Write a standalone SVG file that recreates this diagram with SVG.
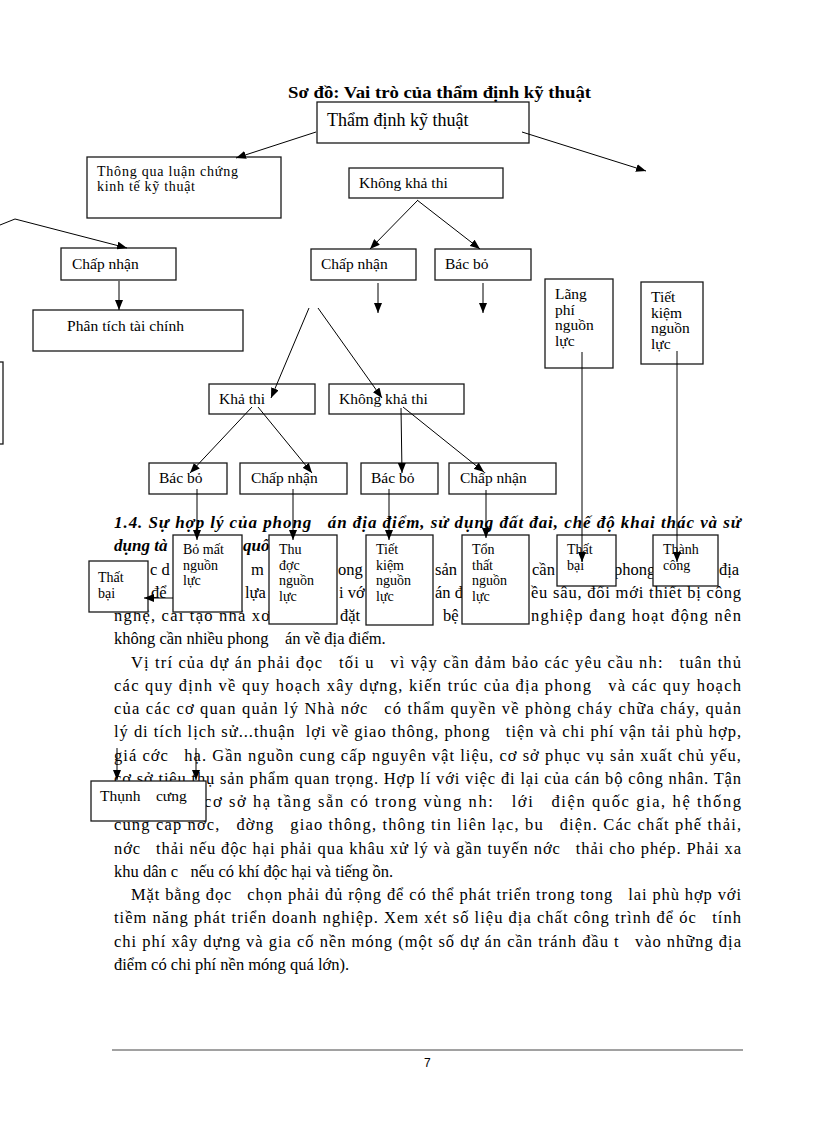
<svg xmlns="http://www.w3.org/2000/svg" width="816" height="1123" viewBox="0 0 816 1123">
<style>
.box{fill:#fff;stroke:#1a1a1a;stroke-width:1.3}
.t{font-family:"Liberation Serif",serif;font-size:15.5px;fill:#000}
.ts{font-family:"Liberation Serif",serif;font-size:14px;fill:#000}
.tv{font-family:"Liberation Serif",serif;font-size:15.5px;fill:#000}
.tl{font-family:"Liberation Serif",serif;font-size:18px;fill:#000}
.body{font-family:"Liberation Serif",serif;font-size:16.5px;fill:#000}
.bi{font-family:"Liberation Serif",serif;font-size:17px;font-weight:bold;font-style:italic;fill:#000}
.title{font-family:"Liberation Serif",serif;font-size:16.5px;font-weight:bold;fill:#000}
.con{stroke:#000;stroke-width:1;fill:none;marker-end:url(#ah)}
</style>
<defs>
<marker id="ah" markerUnits="userSpaceOnUse" markerWidth="10" markerHeight="8" refX="10" refY="4" orient="auto">
<path d="M0,0 L10,4 L0,8 z" fill="#000"/>
</marker>
</defs>
<rect width="816" height="1123" fill="#fff"/>

<text class="title" x="288" y="98" textLength="303" lengthAdjust="spacingAndGlyphs">Sơ đồ: Vai trò của thẩm định kỹ thuật</text>

<!-- body text -->
<g id="body-text">
<text class="bi" x="114" y="528" textLength="627" lengthAdjust="spacing">1.4. Sự hợp lý của phong&#160;&#160; án địa điểm, sử dụng đất đai, chế độ khai thác và sử</text>
<text class="bi" x="114" y="551">dụng tà</text>
<text class="bi" x="243" y="551">quố</text>
<text class="body" x="150" y="575">c d</text>
<text class="body" x="251" y="575">m</text>
<text class="body" x="338" y="575">ong</text>
<text class="body" x="435" y="575">sản</text>
<text class="body" x="532" y="575">cần</text>
<text class="body" x="614" y="575">phong</text>
<text class="body" x="719" y="575">địa</text>
<text class="body" x="151" y="598">để</text>
<text class="body" x="245" y="598">lựa</text>
<text class="body" x="339" y="598">i vớ</text>
<text class="body" x="435" y="598">án đ</text>
<text class="body" x="531" y="598" textLength="210" lengthAdjust="spacing">ều sâu, đổi mới thiết bị công</text>
<text class="body" x="114" y="621" textLength="156" lengthAdjust="spacing">nghệ, cải tạo nhà xơ</text>
<text class="body" x="340" y="621">đặt</text>
<text class="body" x="443" y="621">bệ</text>
<text class="body" x="531" y="621" textLength="210" lengthAdjust="spacing">nghiệp đang hoạt động nên</text>
<text class="body" x="114" y="644">không cần nhiều phong&#160;&#160;&#160; án về địa điểm.</text>
<text class="body" x="131" y="667.5" textLength="610" lengthAdjust="spacing">Vị trí của dự án phải đọc&#160;&#160; tối u&#160;&#160; vì vậy cần đảm bảo các yêu cầu nh:&#160;&#160; tuân thủ</text>
<text class="body" x="114" y="690.8" textLength="627" lengthAdjust="spacing">các quy định về quy hoạch xây dựng, kiến trúc của địa phong&#160;&#160; và các quy hoạch</text>
<text class="body" x="114" y="714" textLength="627" lengthAdjust="spacing">của các cơ quan quản lý Nhà nớc&#160;&#160; có thẩm quyền về phòng cháy chữa cháy, quản</text>
<text class="body" x="114" y="737.3" textLength="627" lengthAdjust="spacing">lý di tích lịch sử...thuận&#160; lợi về giao thông, phong&#160;&#160; tiện và chi phí vận tải phù hợp,</text>
<text class="body" x="114" y="760.5" textLength="627" lengthAdjust="spacing">giá cớc&#160;&#160; hạ. Gần nguồn cung cấp nguyên vật liệu, cơ sở phục vụ sản xuất chủ yếu,</text>
<text class="body" x="114" y="783.8" textLength="627" lengthAdjust="spacing">cơ sở tiêu thụ sản phẩm quan trọng. Hợp lí với việc đi lại của cán bộ công nhân. Tận</text>
<text class="body" x="204" y="807" textLength="537" lengthAdjust="spacing">cơ sở hạ tầng sẵn có trong vùng nh:&#160;&#160; lới&#160;&#160; điện quốc gia, hệ thống</text>
<text class="body" x="114" y="830.3" textLength="627" lengthAdjust="spacing">cung cấp nớc,&#160;&#160; đờng&#160;&#160; giao thông, thông tin liên lạc, bu&#160;&#160; điện. Các chất phế thải,</text>
<text class="body" x="114" y="853.5" textLength="627" lengthAdjust="spacing">nớc&#160;&#160; thải nếu độc hại phải qua khâu xử lý và gần tuyến nớc&#160;&#160; thải cho phép. Phải xa</text>
<text class="body" x="114" y="876.8">khu dân c&#160;&#160; nếu có khí độc hại và tiếng ồn.</text>
<text class="body" x="131" y="900" textLength="610" lengthAdjust="spacing">Mặt bằng đọc&#160;&#160; chọn phải đủ rộng để có thể phát triển trong tong&#160;&#160; lai phù hợp với</text>
<text class="body" x="114" y="923.3" textLength="627" lengthAdjust="spacing">tiềm năng phát triển doanh nghiệp. Xem xét số liệu địa chất công trình để óc&#160;&#160; tính</text>
<text class="body" x="114" y="946.5" textLength="627" lengthAdjust="spacing">chi phí xây dựng và gia cố nền móng (một số dự án cần tránh đầu t&#160;&#160; vào những địa</text>
<text class="body" x="114" y="969.8">điểm có chi phí nền móng quá lớn).</text>
</g>

<!-- nodes -->
<g id="n-thamdinh"><rect class="box" x="317" y="102" width="212" height="41"/><text class="tl" x="327" y="126">Thẩm định kỹ thuật</text></g>
<g id="n-thongqua"><rect class="box" x="87" y="157" width="194" height="61"/><text class="ts" x="97" y="176" textLength="141" lengthAdjust="spacing">Thông qua luận chứng</text><text class="ts" x="97" y="191" textLength="98" lengthAdjust="spacing">kinh tế kỹ thuật</text></g>
<g id="n-khongkhathi1"><rect class="box" x="349" y="168" width="154" height="30"/><text class="t" x="359" y="188">Không khả thi</text></g>
<g id="n-chapnhan1"><rect class="box" x="61" y="248" width="115" height="32"/><text class="t" x="72" y="269">Chấp nhận</text></g>
<g id="n-phantich"><rect class="box" x="33" y="310" width="210" height="41"/><text class="t" x="67" y="331" textLength="117" lengthAdjust="spacing">Phân tích tài chính</text></g>
<g id="n-leftpartial"><rect class="box" x="-20" y="362" width="23" height="82"/></g>
<g id="n-chapnhan2"><rect class="box" x="311" y="249" width="105" height="31"/><text class="t" x="321" y="269">Chấp nhận</text></g>
<g id="n-bacbo1"><rect class="box" x="435" y="249" width="96" height="31"/><text class="t" x="445" y="269">Bác bỏ</text></g>
<g id="n-langphi"><rect class="box" x="545" y="279" width="68" height="89"/><text class="tv" x="555" y="299">Lãng</text><text class="tv" x="555" y="314.5">phí</text><text class="tv" x="555" y="330">nguồn</text><text class="tv" x="555" y="345.5">lực</text></g>
<g id="n-tietkiem1"><rect class="box" x="641" y="282" width="62" height="82"/><text class="tv" x="651" y="302">Tiết</text><text class="tv" x="651" y="317.5">kiệm</text><text class="tv" x="651" y="333">nguồn</text><text class="tv" x="651" y="348.5">lực</text></g>
<g id="n-khathi"><rect class="box" x="209" y="384" width="106" height="30"/><text class="t" x="219" y="404">Khả thi</text></g>
<g id="n-khongkhathi2"><rect class="box" x="329" y="384" width="135" height="30"/><text class="t" x="339" y="404">Không khả thi</text></g>
<g id="n-bacbo2"><rect class="box" x="149" y="463" width="78" height="31"/><text class="t" x="159" y="483">Bác bỏ</text></g>
<g id="n-chapnhan3"><rect class="box" x="240" y="463" width="107" height="31"/><text class="t" x="251" y="483">Chấp nhận</text></g>
<g id="n-bacbo3"><rect class="box" x="361" y="463" width="77" height="31"/><text class="t" x="371" y="483">Bác bỏ</text></g>
<g id="n-chapnhan4"><rect class="box" x="449" y="463" width="107" height="31"/><text class="t" x="460" y="483">Chấp nhận</text></g>
<g id="n-bomat"><rect class="box" x="173" y="535" width="69" height="77"/><text class="ts" x="183" y="554">Bỏ mất</text><text class="ts" x="183" y="569.5">nguồn</text><text class="ts" x="183" y="585">lực</text></g>
<g id="n-thuduoc"><rect class="box" x="269" y="535" width="68" height="89"/><text class="ts" x="279" y="554">Thu</text><text class="ts" x="279" y="569.5">đợc</text><text class="ts" x="279" y="585">nguồn</text><text class="ts" x="279" y="600.5">lực</text></g>
<g id="n-tietkiem2"><rect class="box" x="366" y="535" width="67" height="90"/><text class="ts" x="376" y="554">Tiết</text><text class="ts" x="376" y="569.5">kiệm</text><text class="ts" x="376" y="585">nguồn</text><text class="ts" x="376" y="600.5">lực</text></g>
<g id="n-tonthat"><rect class="box" x="462" y="535" width="67" height="89"/><text class="ts" x="472" y="554">Tổn</text><text class="ts" x="472" y="569.5">thất</text><text class="ts" x="472" y="585">nguồn</text><text class="ts" x="472" y="600.5">lực</text></g>
<g id="n-thatbai1"><rect class="box" x="557" y="535" width="59" height="51"/><text class="ts" x="567" y="554">Thất</text><text class="ts" x="567" y="569.5">bại</text></g>
<g id="n-thanhcong1"><rect class="box" x="653" y="535" width="65" height="51"/><text class="ts" x="663" y="554">Thành</text><text class="ts" x="663" y="569.5">công</text></g>
<g id="n-thatbai2"><rect class="box" x="89" y="561" width="59" height="51"/><text class="ts" x="98" y="582">Thất</text><text class="ts" x="98" y="597.5">bại</text></g>
<g id="n-thanhcong2"><rect class="box" x="91" y="781" width="115" height="40"/><text class="t" x="100" y="801" font-size="12.5">Thụnh&#160;&#160;&#160; cưng</text></g>

<!-- connectors -->
<g id="connectors">
<line class="con" x1="316" y1="132" x2="236" y2="158"/>
<line class="con" x1="522" y1="132" x2="646" y2="171"/>
<polyline class="con" points="0,225 15,219 127,248"/>
<line class="con" x1="119" y1="281" x2="119" y2="310"/>
<line class="con" x1="418" y1="200" x2="370" y2="249"/>
<line class="con" x1="417" y1="200" x2="480" y2="249"/>
<line class="con" x1="378" y1="283" x2="378" y2="313"/>
<line class="con" x1="483" y1="283" x2="483" y2="313"/>
<line class="con" x1="309" y1="308" x2="271" y2="398"/>
<line class="con" x1="318" y1="308" x2="382" y2="398"/>
<line class="con" x1="252" y1="407" x2="190" y2="473"/>
<line class="con" x1="258" y1="407" x2="312" y2="473"/>
<line class="con" x1="401" y1="408" x2="402" y2="473"/>
<line class="con" x1="403" y1="407" x2="484" y2="472"/>
<line class="con" x1="197" y1="489" x2="197" y2="540"/>
<line class="con" x1="293" y1="489" x2="293" y2="540"/>
<line class="con" x1="389" y1="489" x2="389" y2="540"/>
<line class="con" x1="486" y1="490" x2="486" y2="538"/>
<line class="con" x1="582" y1="352" x2="582" y2="562"/>
<line class="con" x1="677" y1="351" x2="677" y2="562"/>
<line class="con" x1="173" y1="598" x2="144" y2="598"/>
<line class="con" x1="117" y1="748" x2="117" y2="780"/>
<line class="con" x1="196" y1="748" x2="196" y2="780"/>
</g>

<line x1="112" y1="1050" x2="743" y2="1050" stroke="#444" stroke-width="1"/>
<text x="424" y="1067" font-family="Liberation Sans, sans-serif" font-size="12" fill="#000">7</text>
</svg>
